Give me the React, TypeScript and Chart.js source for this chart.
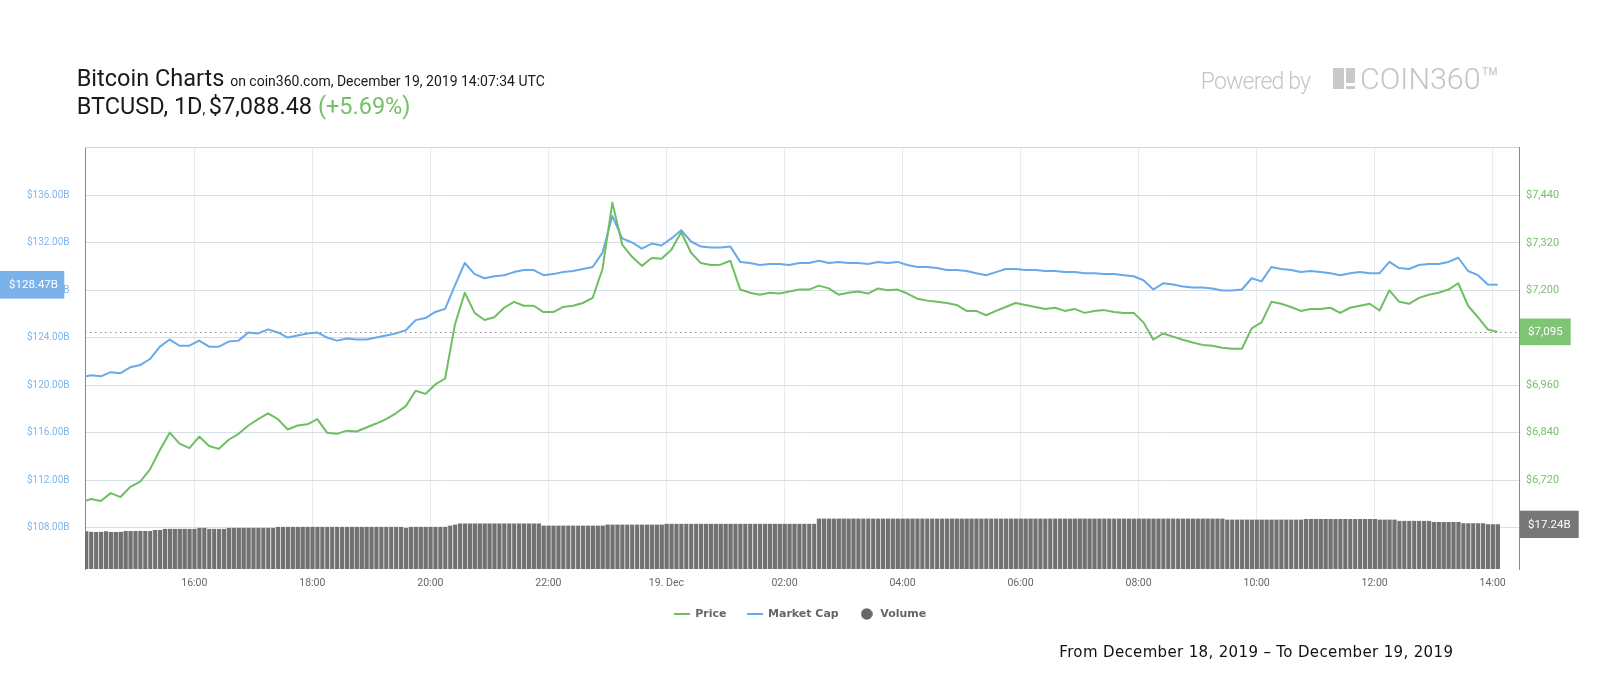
import React, { useEffect, useRef } from "react";
import { Chart, registerables } from "chart.js";

Chart.register(...registerables);

// ---- axis ticks ----
const xTickHours = [16, 18, 20, 22, 24, 26, 28, 30, 32, 34, 36, 38];
const xTickLabels = ["16:00", "18:00", "20:00", "22:00", "19. Dec", "02:00", "04:00", "06:00", "08:00", "10:00", "12:00", "14:00"];
const capTicks = [108, 112, 116, 120, 124, 128, 132, 136];
const priceTicks = [6600, 6720, 6840, 6960, 7080, 7200, 7320, 7440];

// ---- sampling (hours since Dec 18, 00:00) ----
const lineStartHour = 14 + 5 / 60;
const lineStepMinutes = 10;
const barStartHour = 14 + 10 / 60;
const barStepMinutes = 5;

// ---- series ----
const priceValues = [
  6664, 6672, 6667, 6687, 6677, 6703, 6716, 6747, 6796, 6840,
  6812, 6801, 6830, 6806, 6799, 6822, 6837, 6858, 6874, 6889,
  6874, 6848, 6858, 6861, 6874, 6840, 6837, 6845, 6843, 6853,
  6863, 6874, 6889, 6907, 6946, 6938, 6962, 6977, 7114, 7194,
  7143, 7125, 7132, 7156, 7171, 7161, 7161, 7145, 7145, 7158,
  7161, 7168, 7181, 7254, 7422, 7316, 7285, 7262, 7282, 7280,
  7303, 7347, 7295, 7269, 7264, 7265, 7275, 7202, 7194, 7189,
  7194, 7192, 7197, 7202, 7202, 7212, 7205, 7189, 7194, 7197,
  7192, 7205, 7200, 7202, 7192, 7179, 7174, 7171, 7168, 7163,
  7148, 7148, 7137, 7148, 7158, 7168, 7163, 7158, 7153, 7156,
  7148, 7153, 7143, 7148, 7150, 7145, 7143, 7143, 7119, 7075,
  7091, 7083, 7075, 7068, 7062, 7060, 7055, 7052, 7052, 7104,
  7119, 7171, 7166, 7158, 7148, 7153, 7153, 7156, 7143, 7156,
  7161, 7166, 7149, 7200, 7171, 7166, 7181, 7189, 7194, 7202,
  7218, 7161, 7132, 7101, 7095,
];

const marketCapValues = [
  120.66, 120.84, 120.75, 121.1, 121.01, 121.52, 121.7, 122.21, 123.25, 123.85,
  123.33, 123.33, 123.76, 123.25, 123.25, 123.68, 123.76, 124.45, 124.37, 124.71,
  124.45, 124.02, 124.2, 124.37, 124.45, 124.02, 123.76, 123.94, 123.85, 123.85,
  124.02, 124.2, 124.37, 124.63, 125.49, 125.66, 126.18, 126.44, 128.42, 130.31,
  129.37, 129.02, 129.19, 129.28, 129.54, 129.71, 129.71, 129.28, 129.37, 129.54,
  129.63, 129.8, 129.97, 131.18, 134.28, 132.38, 132.04, 131.52, 131.95, 131.78,
  132.38, 133.07, 132.12, 131.69, 131.61, 131.61, 131.69, 130.4, 130.31, 130.14,
  130.23, 130.23, 130.14, 130.31, 130.31, 130.49, 130.31, 130.4, 130.31, 130.31,
  130.23, 130.4, 130.31, 130.4, 130.14, 129.97, 129.97, 129.89, 129.71, 129.71,
  129.63, 129.45, 129.28, 129.54, 129.8, 129.8, 129.71, 129.71, 129.63, 129.63,
  129.54, 129.54, 129.45, 129.45, 129.37, 129.37, 129.28, 129.19, 128.85, 128.07,
  128.59, 128.5, 128.33, 128.25, 128.25, 128.16, 127.99, 127.99, 128.07, 129.02,
  128.76, 129.97, 129.8, 129.71, 129.54, 129.63, 129.54, 129.45, 129.28, 129.45,
  129.54, 129.45, 129.45, 130.4, 129.88, 129.8, 130.14, 130.23, 130.23, 130.4,
  130.75, 129.63, 129.28, 128.5, 128.47,
];

const volumeValues = [
  14.6, 14.4, 14.3, 14.4, 14.6, 14.3, 14.3, 14.4, 14.7, 14.7,
  14.7, 14.7, 14.7, 14.7, 15.1, 15.1, 15.5, 15.5, 15.5, 15.5,
  15.5, 15.5, 15.5, 15.9, 15.9, 15.5, 15.5, 15.5, 15.5, 15.9,
  15.9, 15.9, 15.9, 15.9, 15.9, 15.9, 15.9, 15.9, 15.9, 16.3,
  16.3, 16.3, 16.3, 16.3, 16.3, 16.3, 16.3, 16.3, 16.3, 16.3,
  16.3, 16.3, 16.3, 16.3, 16.3, 16.3, 16.3, 16.3, 16.3, 16.3,
  16.3, 16.3, 16.3, 16.3, 16.3, 15.9, 16.3, 16.3, 16.3, 16.3,
  16.3, 16.3, 16.3, 16.3, 16.8, 17.2, 17.6, 17.6, 17.6, 17.6,
  17.6, 17.6, 17.6, 17.6, 17.6, 17.6, 17.6, 17.6, 17.6, 17.6,
  17.6, 17.6, 17.6, 16.8, 16.8, 16.8, 16.8, 16.8, 16.8, 16.8,
  16.8, 16.8, 16.8, 16.8, 16.8, 16.8, 17.2, 17.2, 17.2, 17.2,
  17.2, 17.2, 17.2, 17.2, 17.2, 17.2, 17.2, 17.2, 17.5, 17.5,
  17.5, 17.5, 17.5, 17.5, 17.5, 17.5, 17.5, 17.5, 17.5, 17.5,
  17.5, 17.5, 17.5, 17.5, 17.5, 17.5, 17.5, 17.5, 17.5, 17.5,
  17.5, 17.5, 17.5, 17.5, 17.5, 17.5, 17.5, 17.5, 17.5, 19.5,
  19.5, 19.5, 19.5, 19.5, 19.5, 19.5, 19.5, 19.5, 19.5, 19.5,
  19.5, 19.5, 19.5, 19.5, 19.5, 19.5, 19.5, 19.5, 19.5, 19.5,
  19.5, 19.5, 19.5, 19.5, 19.5, 19.5, 19.5, 19.5, 19.5, 19.5,
  19.5, 19.5, 19.5, 19.5, 19.5, 19.5, 19.5, 19.5, 19.5, 19.5,
  19.5, 19.5, 19.5, 19.5, 19.5, 19.5, 19.5, 19.5, 19.5, 19.5,
  19.5, 19.5, 19.5, 19.5, 19.5, 19.5, 19.5, 19.5, 19.5, 19.5,
  19.5, 19.5, 19.5, 19.5, 19.5, 19.5, 19.5, 19.5, 19.5, 19.5,
  19.5, 19.5, 19.5, 19.5, 19.5, 19.5, 19.5, 19.5, 19.5, 19.5,
  19.5, 19.5, 19.1, 19.1, 19.1, 19.1, 19.1, 19.1, 19.1, 19.1,
  19.1, 19.1, 19.1, 19.1, 19.1, 19.1, 19.1, 19.1, 19.3, 19.3,
  19.3, 19.3, 19.3, 19.3, 19.3, 19.3, 19.3, 19.3, 19.3, 19.3,
  19.3, 19.3, 19.3, 19.1, 19.1, 19.1, 19.1, 18.6, 18.6, 18.6,
  18.6, 18.6, 18.6, 18.6, 18.2, 18.2, 18.2, 18.2, 18.2, 18.2,
  17.7, 17.7, 17.7, 17.7, 17.7, 17.24, 17.24, 17.24,
];

const seriesNames = ["Price", "Market Cap", "Volume"];
const seriesColors = ["#6fbf62", "#68a9ea", "#717171"];

const headStyle: React.CSSProperties = {
  position: "absolute",
  fontFamily: "Roboto",
  fontSize: 23.5,
  lineHeight: 1,
  color: "#1a1a1a",
  whiteSpace: "nowrap",
};

export default function App() {
  const canvasRef = useRef<HTMLCanvasElement | null>(null);

  useEffect(() => {
    const canvas = canvasRef.current;
    if (!canvas) return;

    Chart.defaults.font.family = "Roboto";

    const lineTimes = priceValues.map((_, i) => lineStartHour + (i * lineStepMinutes) / 60);
    const barTimes = volumeValues.map((_, i) => barStartHour + (i * barStepMinutes) / 60);
    const lastPrice = priceValues[priceValues.length - 1];
    const lastCap = marketCapValues[marketCapValues.length - 1];
    const lastVol = volumeValues[volumeValues.length - 1];

    const makeLineMarker = (color: string) => {
      const c = document.createElement("canvas");
      c.width = 16;
      c.height = 2;
      const g = c.getContext("2d")!;
      g.fillStyle = color;
      g.fillRect(0, 0, 16, 2);
      return c;
    };
    const makeDotMarker = (color: string) => {
      const c = document.createElement("canvas");
      c.width = 12;
      c.height = 12;
      const g = c.getContext("2d")!;
      g.fillStyle = color;
      g.beginPath();
      g.arc(6, 6, 5.8, 0, Math.PI * 2);
      g.fill();
      return c;
    };
    const markers = [makeLineMarker(seriesColors[0]), makeLineMarker(seriesColors[1]), makeDotMarker("#666666")];

    const tag = (ctx: any, x: number, yc: number, w: number, h: number, fill: string, text: string, tx: number) => {
      ctx.fillStyle = fill;
      ctx.fillRect(x, yc - h / 2, w, h);
      ctx.fillStyle = "#ffffff";
      ctx.font = "11.5px Roboto";
      ctx.textAlign = "center";
      ctx.textBaseline = "middle";
      ctx.fillText(text, tx, yc + 0.5);
    };

    const overlay = {
      id: "overlayTags",
      beforeDatasetsDraw(chart: any) {
        const { ctx, chartArea, scales } = chart;
        ctx.save();
        ctx.strokeStyle = "#ccd6df";
        ctx.lineWidth = 1;
        ctx.beginPath();
        ctx.moveTo(chartArea.left, chartArea.top + 0.5);
        ctx.lineTo(chartArea.right, chartArea.top + 0.5);
        ctx.stroke();
        const y = Math.round(scales.price.getPixelForValue(lastPrice)) + 0.5;
        ctx.strokeStyle = "#8c8c8c";
        ctx.setLineDash([1.5, 3.5]);
        ctx.beginPath();
        ctx.moveTo(chartArea.left, y);
        ctx.lineTo(chartArea.right, y);
        ctx.stroke();
        ctx.restore();
      },
      afterDraw(chart: any) {
        const { ctx, chartArea, scales } = chart;
        ctx.save();
        const ya = scales.cap.getPixelForValue(lastCap);
        tag(ctx, 0, ya, 64.3, 27.7, "#7cb2eb", "$" + lastCap.toFixed(2) + "B", 33.5);
        const yp = scales.price.getPixelForValue(lastPrice);
        const rx = chartArea.right + 1;
        tag(ctx, rx, yp, 50.7, 26.7, "#80c475", "$" + lastPrice.toLocaleString("en-US"), rx + 25.3);
        const yv = scales.vol.getPixelForValue(lastVol);
        tag(ctx, rx, yv, 58.7, 27.3, "#777777", "$" + lastVol.toFixed(2) + "B", rx + 29.3);
        ctx.restore();
      },
    };

    const chart = new Chart(canvas, {
      type: "line",
      data: {
        datasets: [
          {
            type: "line",
            label: seriesNames[0],
            data: priceValues.map((v, i) => ({ x: lineTimes[i], y: v })),
            yAxisID: "price",
            borderColor: seriesColors[0],
            backgroundColor: seriesColors[0],
            borderWidth: 2,
            pointRadius: 0,
            tension: 0,
            borderJoinStyle: "round",
            fill: false,
          },
          {
            type: "line",
            label: seriesNames[1],
            data: marketCapValues.map((v, i) => ({ x: lineTimes[i], y: v })),
            yAxisID: "cap",
            borderColor: seriesColors[1],
            backgroundColor: seriesColors[1],
            borderWidth: 2,
            pointRadius: 0,
            tension: 0,
            borderJoinStyle: "round",
            fill: false,
          },
          {
            type: "bar",
            label: seriesNames[2],
            data: volumeValues.map((v, i) => ({ x: barTimes[i], y: v })),
            yAxisID: "vol",
            backgroundColor: seriesColors[2],
            borderColor: "#d6d6d6",
            borderWidth: { left: 1, right: 0, top: 0, bottom: 0 },
            borderSkipped: false,
            barPercentage: 1,
            categoryPercentage: 1,
          },
        ] as any,
      },
      options: {
        responsive: false,
        animation: false,
        events: [],
        layout: { padding: { top: 147, bottom: 70.5, left: 0, right: 0 } },
        plugins: {
          legend: {
            position: "bottom",
            labels: {
              usePointStyle: true,
              pointStyleWidth: 16,
              boxHeight: 11,
              padding: 20,
              color: "#666666",
              font: { family: "DejaVu Sans", size: 11, weight: "bold" },
              generateLabels: (c: any) => {
                const items = (Chart.defaults.plugins.legend.labels as any).generateLabels(c);
                items.forEach((it: any, idx: number) => {
                  it.pointStyle = markers[idx];
                });
                return items;
              },
            },
          },
          tooltip: { enabled: false },
        },
        scales: {
          x: {
            type: "linear",
            axis: "x",
            min: 14.148,
            max: 38.446,
            offset: false,
            afterBuildTicks: (s: any) => {
              s.ticks = xTickHours.map((v) => ({ value: v }));
            },
            ticks: {
              callback: (_v: any, i: number) => xTickLabels[i],
              color: "#666666",
              font: { family: "Roboto", size: 10.5 },
              padding: 8,
              maxRotation: 0,
              autoSkip: false,
            },
            grid: { color: "#e6ebf0", drawTicks: false, offset: false },
            border: { display: false },
            afterFit: (s: any) => {
              s.height = 19.5;
            },
          },
          cap: {
            type: "linear",
            axis: "y",
            position: "left",
            min: 104.5,
            max: 140.09,
            afterBuildTicks: (s: any) => {
              s.ticks = capTicks.map((v) => ({ value: v }));
            },
            ticks: {
              callback: (v: any) => "$" + Number(v).toFixed(2) + "B",
              color: "#80b5ea",
              font: { family: "Roboto", size: 10 },
              padding: 15.5,
            },
            grid: { color: "#d6dee6", drawTicks: false },
            border: { display: true, color: "#888888", width: 1 },
            afterFit: (s: any) => {
              s.width = 85;
            },
          },
          price: {
            type: "linear",
            axis: "y",
            position: "right",
            min: 6495.0,
            max: 7562.7,
            afterBuildTicks: (s: any) => {
              s.ticks = priceTicks.map((v) => ({ value: v }));
            },
            ticks: {
              callback: (v: any) => "$" + Number(v).toLocaleString("en-US"),
              color: "#78c06c",
              font: { family: "Roboto", size: 11 },
              padding: 7,
            },
            grid: { display: false, drawTicks: false },
            border: { display: true, color: "#888888", width: 1 },
            afterFit: (s: any) => {
              s.width = 81;
            },
          },
          vol: {
            type: "linear",
            axis: "y",
            display: false,
            min: 0,
            max: 163,
          },
        } as any,
      },
      plugins: [overlay as any],
    });

    return () => chart.destroy();
  }, []);

  return (
    <div style={{ position: "absolute", left: 0, top: 0, width: 1600, height: 700, background: "#ffffff", overflow: "hidden" }}>
      <canvas ref={canvasRef} width={1600} height={700} style={{ position: "absolute", left: 0, top: 0, width: 1600, height: 700 }} />
      <div style={{ ...headStyle, left: 76.7, top: 66.9 }}>
        Bitcoin Charts <span style={{ fontSize: 14 }}>on coin360.com, December 19, 2019 14:07:34 UTC</span>
      </div>
      <div style={{ ...headStyle, left: 76.7, top: 94.5 }}>
        BTCUSD, 1D<span style={{ fontSize: 14 }}>, </span>$7,088.48 <span style={{ color: "#74c167" }}>(+5.69%)</span>
      </div>
      <div
        style={{
          position: "absolute",
          left: 1200.7,
          top: 69.9,
          fontFamily: "Roboto",
          fontWeight: 300,
          fontSize: 23,
          lineHeight: 1,
          letterSpacing: -0.8,
          color: "#c4c4c4",
          whiteSpace: "nowrap",
        }}
      >
        Powered by
      </div>
      <div style={{ position: "absolute", left: 1332.7, top: 67.7, width: 11.6, height: 21.6, background: "#c9c9c9" }} />
      <div style={{ position: "absolute", left: 1345.7, top: 67.7, width: 9.3, height: 15.3, background: "#c9c9c9" }} />
      <div style={{ position: "absolute", left: 1345.7, top: 85.7, width: 9.3, height: 3.6, background: "#c9c9c9" }} />
      <div
        style={{
          position: "absolute",
          left: 1360,
          top: 63.7,
          fontFamily: "Roboto",
          fontWeight: 300,
          fontSize: 30.4,
          lineHeight: 1,
          color: "#c4c4c4",
          whiteSpace: "nowrap",
        }}
      >
        COIN360™
      </div>
      <div
        style={{
          position: "absolute",
          left: 1059.3,
          top: 645,
          fontFamily: "DejaVu Sans",
          fontSize: 15,
          letterSpacing: 0.35,
          lineHeight: 1,
          color: "#111111",
          whiteSpace: "nowrap",
        }}
      >
        From December 18, 2019 – To December 19, 2019
      </div>
    </div>
  );
}
